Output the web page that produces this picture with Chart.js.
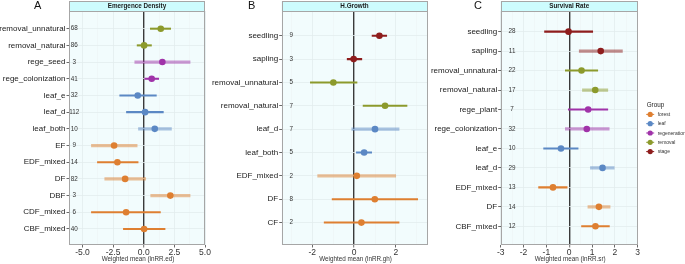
<!DOCTYPE html>
<html>
<head>
<meta charset="utf-8">
<script src="https://cdn.jsdelivr.net/npm/chart.js@4.4.1/dist/chart.umd.min.js"></script>
<style>
  html,body{margin:0;padding:0;background:#fff;}
  #wrap{position:relative;width:685px;height:264px;overflow:hidden;background:#fff;}
  .pc{position:absolute;top:0;}
  .letter{position:absolute;top:0;font:11px "Liberation Sans",Arial,sans-serif;line-height:11px;color:#111;}
</style>
</head>
<body>
<div id="wrap">
  <canvas id="cA" class="pc" width="215" height="264" style="left:0px"></canvas>
  <canvas id="cB" class="pc" width="225" height="264" style="left:210px"></canvas>
  <canvas id="cC" class="pc" width="257" height="264" style="left:428px"></canvas>
  <div class="letter" style="left:34px">A</div>
  <div class="letter" style="left:248px">B</div>
  <div class="letter" style="left:474px">C</div>
</div>
<script>
// ---------------- DATA ----------------
const groupNames = ['forest', 'leaf', 'regeneration', 'removal', 'stage'];

// Panel A: Emergence Density
const catsA  = ['removal_unnatural','removal_natural','rege_seed','rege_colonization','leaf_e','leaf_d','leaf_both','EF','EDF_mixed','DF','DBF','CDF_mixed','CBF_mixed'];
const groupA = ['removal','removal','regeneration','regeneration','leaf','leaf','leaf','forest','forest','forest','forest','forest','forest'];
const meanA  = [1.39, 0.03, 1.52, 0.65, -0.49, 0.11, 0.90, -2.42, -2.15, -1.52, 2.17, -1.44, 0.03];
const lowA   = [0.54, -0.54, -0.73, 0.08, -1.96, -1.41, -0.43, -4.27, -3.78, -3.18, 0.57, -4.27, -1.66];
const highA  = [2.20, 0.63, 3.78, 1.22, 1.03, 1.60, 2.26, -0.54, -0.46, 0.16, 3.78, 1.36, 1.74];
const nA     = [68, 86, 3, 41, 32, 112, 10, 9, 14, 82, 3, 6, 40];
const wideA  = [0, 0, 1, 0, 0, 0, 1, 1, 0, 1, 1, 0, 0];
const ticksA = [-5, -2.5, 0, 2.5, 5];

// Panel B: H.Growth
const catsB  = ['seedling','sapling','removal_unnatural','removal_natural','leaf_d','leaf_both','EDF_mixed','DF','CF'];
const groupB = ['stage','stage','removal','removal','leaf','leaf','forest','forest','forest'];
const meanB  = [1.21, -0.02, -0.99, 1.48, 1.00, 0.48, 0.13, 0.99, 0.35];
const lowB   = [0.86, -0.33, -2.09, 0.43, -0.11, 0.11, -1.74, -1.05, -1.43];
const highB  = [1.56, 0.37, 0.14, 2.53, 2.15, 0.84, 1.99, 3.04, 2.15];
const nB     = [9, 3, 5, 7, 7, 5, 2, 8, 2];
const wideB  = [0, 0, 0, 0, 1, 0, 1, 0, 0];
const ticksB = [-2, 0, 2];

// Panel C: Survival Rate
const catsC  = ['seedling','sapling','removal_unnatural','removal_natural','rege_plant','rege_colonization','leaf_e','leaf_d','EDF_mixed','DF','CBF_mixed'];
const groupC = ['stage','stage','removal','removal','regeneration','regeneration','leaf','leaf','forest','forest','forest'];
const meanC  = [-0.03, 1.38, 0.54, 1.14, 0.83, 0.77, -0.36, 1.46, -0.71, 1.30, 1.15];
const lowC   = [-1.08, 0.44, -0.17, 0.58, -0.04, -0.17, -1.12, 0.93, -1.34, 0.82, 0.54];
const highC  = [1.03, 2.33, 1.25, 1.69, 1.69, 1.75, 0.39, 1.97, -0.09, 1.79, 1.76];
const nC     = [28, 11, 22, 17, 7, 32, 10, 29, 13, 14, 12];
const wideC  = [0, 1, 0, 1, 0, 1, 0, 1, 0, 1, 0];
const ticksC = [-3, -2, -1, 0, 1, 2, 3];

// ---------------- STYLE ----------------
const FONT = '"Liberation Sans", Arial, sans-serif';
const COLORS = {forest:'#DE7F31', leaf:'#5B88C4', regeneration:'#A033A9', removal:'#8C9A2C', stage:'#8E1D1D'};
function rgba(hex, a){
  const n = parseInt(hex.slice(1),16);
  return 'rgba(' + ((n>>16)&255) + ',' + ((n>>8)&255) + ',' + (n&255) + ',' + a + ')';
}

function makePanel(canvasId, d, lay){
  const n = d.cats.length;
  const minor = [];
  for (let i = 0; i < d.ticks.length - 1; i++) minor.push((d.ticks[i] + d.ticks[i+1]) / 2);
  if (d.extraMinor) d.extraMinor.forEach(v => minor.push(v));
  const allTicks = d.ticks.concat(minor).filter(v => v >= lay.xMin - 1e-9 && v <= lay.xMax + 1e-9).sort((a,b)=>a-b);
  const isMajor = v => d.ticks.some(t => Math.abs(t - v) < 1e-9);

  const rows = d.cats.map((_, i) => i);
  const thin = rows.filter(i => !d.wide[i]).map(i => ({x:[d.low[i], d.high[i]], y:i}));
  const wide = rows.filter(i => d.wide[i]).map(i => ({x:[d.low[i], d.high[i]], y:i}));
  const pts = rows.map(i => ({x:d.mean[i], y:i}));

  const plugin = {
    id: 'forestDeco',
    beforeDraw(chart){
      const {ctx, chartArea:a} = chart;
      ctx.save();
      ctx.fillStyle = '#f2fcfd';
      ctx.fillRect(a.left, a.top, a.right - a.left, a.bottom - a.top);
      ctx.fillStyle = '#cdfcfe';
      ctx.fillRect(a.left, a.top - 10, a.right - a.left, 10);
      ctx.strokeStyle = '#a6a6a6';
      ctx.lineWidth = 1;
      ctx.strokeRect(Math.round(a.left) + 0.5, Math.round(a.top - 10) + 0.5, Math.round(a.right - a.left) - 1, 10);
      ctx.fillStyle = '#1a1a1a';
      ctx.font = 'bold 6.3px ' + FONT;
      ctx.textAlign = 'center';
      ctx.textBaseline = 'middle';
      ctx.fillText(d.title, (a.left + a.right) / 2, a.top - 4.6);
      ctx.restore();
    },
    beforeDatasetsDraw(chart){
      const {ctx} = chart;
      const xs = chart.scales.x, ys = chart.scales.y;
      ctx.save();
      ctx.fillStyle = '#333';
      ctx.font = '6.3px ' + FONT;
      ctx.textAlign = 'center';
      ctx.textBaseline = 'middle';
      d.n.forEach((v, i) => ctx.fillText(String(v), xs.getPixelForValue(d.nAt), ys.getPixelForValue(i)));
      ctx.restore();
    },
    afterDraw(chart){
      const {ctx, chartArea:a} = chart;
      ctx.save();
      ctx.strokeStyle = '#a6a6a6';
      ctx.lineWidth = 1;
      ctx.strokeRect(Math.round(a.left) + 0.5, Math.round(a.top) + 0.5, Math.round(a.right - a.left) - 1, Math.round(a.bottom - a.top) - 1);
      ctx.fillStyle = '#333';
      ctx.font = '6.3px ' + FONT;
      ctx.textAlign = 'center';
      ctx.textBaseline = 'middle';
      ctx.fillText(d.axisTitle, (a.left + a.right) / 2 + 1, a.bottom + 14);
      if (d.legend){
        const lx = a.right + 9;
        ctx.textAlign = 'left';
        ctx.fillStyle = '#1a1a1a';
        ctx.font = '6.3px ' + FONT;
        ctx.fillText('Group', lx, 105);
        ctx.font = '5px ' + FONT;
        groupNames.forEach((g, k) => {
          const y = 114.4 + k * 9.3;
          const c = COLORS[g];
          ctx.strokeStyle = c; ctx.lineWidth = 1;
          ctx.beginPath(); ctx.moveTo(lx - 0.5, y); ctx.lineTo(lx + 7.5, y); ctx.stroke();
          ctx.fillStyle = c;
          ctx.beginPath(); ctx.arc(lx + 3.5, y, 2.6, 0, Math.PI * 2); ctx.fill();
          ctx.fillStyle = '#333';
          ctx.fillText(g, lx + 11, y + 0.3);
        });
      }
      ctx.restore();
    }
  };

  return new Chart(document.getElementById(canvasId), {
    type: 'bar',
    data: {
      datasets: [
        {
          type: 'scatter', data: pts, order: 0,
          pointRadius: 3.3, pointHoverRadius: 3.3, pointBorderWidth: 0,
          pointBackgroundColor: c => COLORS[d.group[c.dataIndex]],
          pointBorderColor: c => COLORS[d.group[c.dataIndex]]
        },
        {
          type: 'bar', indexAxis: 'y', data: thin, order: 1, grouped: false,
          barThickness: 1.4, borderWidth: 0,
          backgroundColor: c => COLORS[d.group[c.raw.y]]
        },
        {
          type: 'bar', indexAxis: 'y', data: wide, order: 2, grouped: false,
          barThickness: 2.6, borderWidth: 0,
          backgroundColor: c => rgba(COLORS[d.group[c.raw.y]], 0.5)
        }
      ]
    },
    options: {
      responsive: false, animation: false, devicePixelRatio: 1,
      layout: {padding: {top: 11, left: 0, bottom: 0, right: lay.rightPad}},
      plugins: {legend: {display: false}, tooltip: {enabled: false}, title: {display: false}},
      scales: {
        x: {
          type: 'linear', position: 'bottom', min: lay.xMin, max: lay.xMax, offset: false,
          afterBuildTicks: s => { s.ticks = allTicks.map(v => ({value: v})); },
          afterFit: s => { s.height = 19; },
          border: {display: false},
          ticks: {
            autoSkip: false, maxRotation: 0, padding: 0.5, color: '#333',
            font: {size: 8.5, family: FONT},
            callback: v => isMajor(v) ? (d.fmt ? v.toFixed(d.fmt) : String(v)) : ''
          },
          grid: {
            offset: false, drawTicks: true, tickLength: 2.5,
            color: c => (c.tick && Math.abs(c.tick.value) < 1e-9) ? '#3a3a3a' : (c.tick && isMajor(c.tick.value) ? '#e2ecee' : '#edf5f6'),
            lineWidth: c => (c.tick && Math.abs(c.tick.value) < 1e-9) ? 1.4 : 0.8,
            tickColor: c => (c.tick && isMajor(c.tick.value)) ? '#444' : 'rgba(0,0,0,0)',
            tickWidth: 0.8
          }
        },
        y: {
          type: 'linear', position: 'left', reverse: true, min: -1.06, max: n - 1 + 0.96, offset: false,
          afterBuildTicks: s => { s.ticks = rows.map(i => ({value: i})); },
          afterFit: s => { s.width = lay.yWidth; },
          border: {display: false},
          ticks: {
            autoSkip: false, padding: 1, color: '#1a1a1a',
            font: {size: 8, family: FONT},
            callback: v => d.cats[v]
          },
          grid: {offset: false, color: '#e2ecee', lineWidth: 0.8, drawTicks: true, tickLength: 2.5, tickColor: '#444', tickWidth: 0.8}
        }
      }
    },
    plugins: [plugin]
  });
}

makePanel('cA', {
  cats: catsA, group: groupA, mean: meanA, low: lowA, high: highA, n: nA, wide: wideA,
  ticks: ticksA, fmt: 1, title: 'Emergence Density', axisTitle: 'Weighted mean (lnRR.ed)', nAt: -5.67
}, {xMin: -6.1, xMax: 5.0, yWidth: 69, rightPad: 10});

makePanel('cB', {
  cats: catsB, group: groupB, mean: meanB, low: lowB, high: highB, n: nB, wide: wideB,
  ticks: ticksB, extraMinor: [-3, 3], fmt: 0, title: 'H.Growth', axisTitle: 'Weighted mean (lnRR.gh)', nAt: -3.0
}, {xMin: -3.46, xMax: 3.5, yWidth: 71.7, rightPad: 7.7});

makePanel('cC', {
  cats: catsC, group: groupC, mean: meanC, low: lowC, high: highC, n: nC, wide: wideC,
  ticks: ticksC, fmt: 0, title: 'Survival Rate', axisTitle: 'Weighted mean (lnRR.sr)', nAt: -2.5, legend: true
}, {xMin: -3, xMax: 3, yWidth: 72.7, rightPad: 47.3});
</script>
</body>
</html>
